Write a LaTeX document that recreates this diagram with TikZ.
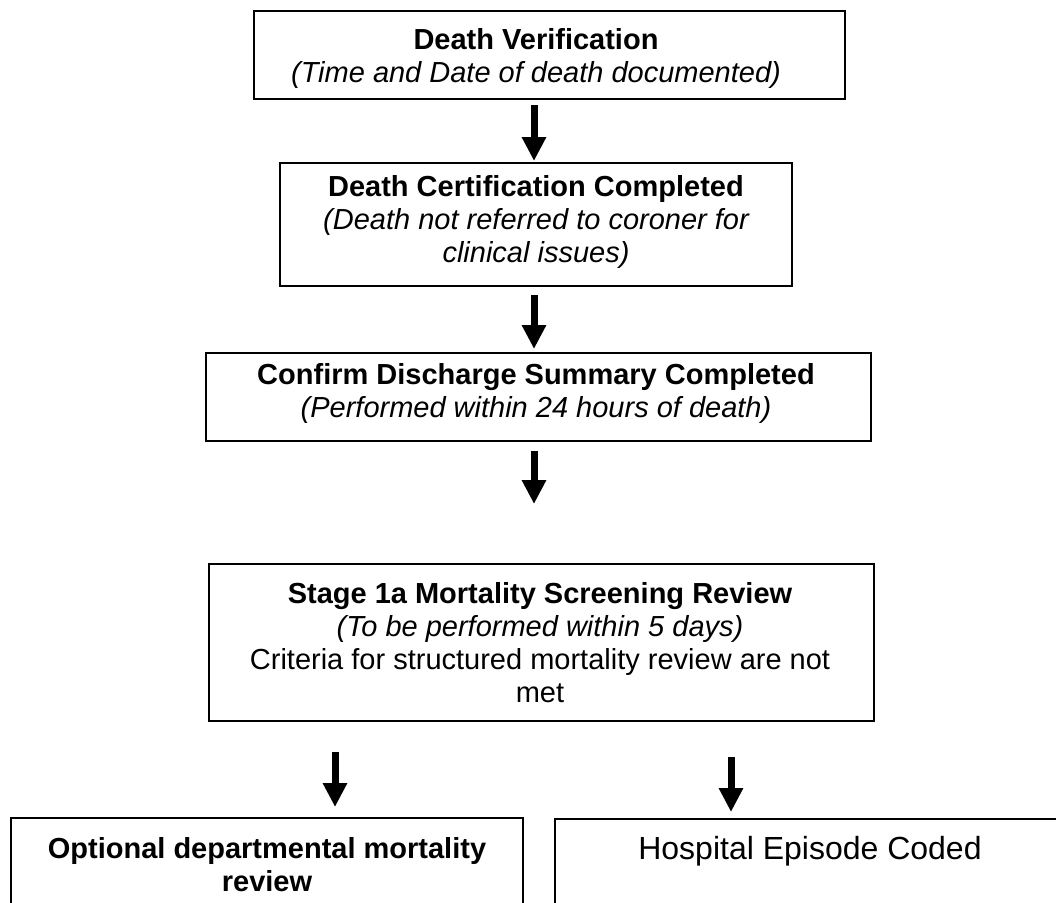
\documentclass[tikz,border=0pt]{standalone}
\usepackage{fontspec}
\setmainfont{Liberation Sans}
\usetikzlibrary{arrows.meta,calc}
\begin{document}
\begin{tikzpicture}[x=1pt,y=-1pt,
  box/.style={draw=black,line width=2pt,inner sep=0pt},
  lbl/.style={anchor=base,inner sep=0pt,font=\fontsize{29}{33}\selectfont},
  lblb/.style={lbl,font=\fontsize{29}{33}\selectfont\bfseries},
  lbli/.style={lbl,font=\fontsize{29}{33}\selectfont\itshape},
  blockarrow/.style={line width=7pt,-{Triangle[width=23pt,length=24pt]}}]
\useasboundingbox (0,0) rectangle (1056,902);
\clip (0,0) rectangle (1056,902);
% boxes
\node[box,minimum width=591pt,minimum height=88pt] (box1) at (549.5,55) {};
\node[box,minimum width=512pt,minimum height=123pt] (box2) at (536,224.5) {};
\node[box,minimum width=665pt,minimum height=88pt] (box3) at (538.5,397) {};
\node[box,minimum width=665pt,minimum height=157pt] (box4) at (541.5,642.5) {};
\node[box,minimum width=512pt,minimum height=120pt] (box5) at (267,878) {};
\node[box,minimum width=515pt,minimum height=120pt] (box6) at (812.5,879) {};
% texts
\node[lblb] (t1a) at (536,49) {Death Verification};
\node[lbli] (t1b) at (536,82) {(Time and Date of death documented)};
\node[lblb] (t2a) at (536,196) {Death Certification Completed};
\node[lbli] (t2b) at (536,229) {(Death not referred to coroner for};
\node[lbli] (t2c) at (536,262) {clinical issues)};
\node[lblb] (t3a) at (536,384) {Confirm Discharge Summary Completed};
\node[lbli] (t3b) at (536,417) {(Performed within 24 hours of death)};
\node[lblb] (t4a) at (540,603) {Stage 1a Mortality Screening Review};
\node[lbli] (t4b) at (540,636) {(To be performed within 5 days)};
\node[lbl] (t4c) at (540,669) {Criteria for structured mortality review are not};
\node[lbl] (t4d) at (540,702) {met};
\node[lblb] (t5a) at (267,858) {Optional departmental mortality};
\node[lblb] (t5b) at (267,891) {review};
\node[lbl,font=\fontsize{32}{36}\selectfont] (t6a) at (810,859) {Hospital Episode Coded};
% arrows
\coordinate (ax) at (534,0);
\coordinate (lx) at (335,0);
\coordinate (rx) at (731,0);
\draw[blockarrow] ($(ax |- box1.south)+(0,5)$) -- ($(ax |- box2.north)+(0,-1)$);
\draw[blockarrow] ($(ax |- box2.south)+(0,8)$) -- ($(ax |- box3.north)+(0,-3)$);
\draw[blockarrow] ($(ax |- box3.south)+(0,9)$) -- ($(ax |- box4.north)+(0,-59)$);
\draw[blockarrow] ($(lx |- box4.south)+(0,30)$) -- ($(lx |- box5.north)+(0,-10)$);
\draw[blockarrow] ($(rx |- box4.south)+(0,35)$) -- ($(rx |- box6.north)+(0,-6)$);
\end{tikzpicture}
\end{document}
